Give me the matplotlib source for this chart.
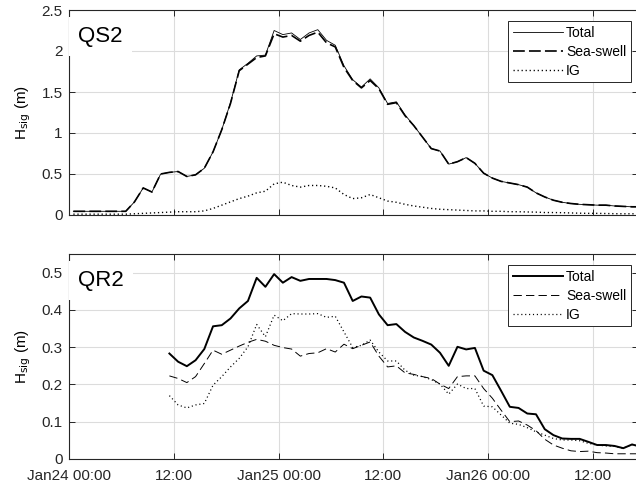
import numpy as np
import matplotlib
matplotlib.use("Agg")
import matplotlib.pyplot as plt
import matplotlib.dates as mdates
from matplotlib.ticker import FuncFormatter

# =========================
# Data: significant wave height (m), hourly, hours after Jan24 00:00
# =========================
t0 = np.datetime64("2018-01-24T00:00")

qs2_hours = np.arange(0.5, 66, 1.0)
qs2_total = [0.045, 0.045, 0.045, 0.045, 0.045, 0.045, 0.045,
             0.16, 0.33, 0.28, 0.50, 0.52, 0.53, 0.47, 0.49, 0.57, 0.77,
             1.04, 1.37, 1.77, 1.85, 1.94, 1.95, 2.25, 2.20, 2.22, 2.14,
             2.22, 2.26, 2.13, 2.07, 1.82, 1.65, 1.56, 1.66, 1.55, 1.36,
             1.38, 1.22, 1.09, 0.95, 0.81, 0.78, 0.62, 0.65, 0.70, 0.63,
             0.51, 0.45, 0.41, 0.39, 0.37, 0.34, 0.27, 0.22, 0.18, 0.155,
             0.14, 0.13, 0.125, 0.12, 0.12, 0.11, 0.105, 0.10, 0.10]
qs2_seaswell = [0.045, 0.045, 0.045, 0.045, 0.045, 0.045, 0.045,
                0.16, 0.33, 0.28, 0.50, 0.52, 0.53, 0.47, 0.49, 0.57, 0.77,
                1.04, 1.36, 1.76, 1.84, 1.92, 1.94, 2.21, 2.17, 2.19, 2.12,
                2.19, 2.23, 2.10, 2.05, 1.80, 1.64, 1.55, 1.64, 1.54, 1.35,
                1.37, 1.21, 1.09, 0.95, 0.81, 0.78, 0.62, 0.65, 0.70, 0.63,
                0.51, 0.45, 0.41, 0.39, 0.37, 0.34, 0.27, 0.22, 0.18, 0.155,
                0.14, 0.13, 0.125, 0.12, 0.12, 0.11, 0.105, 0.10, 0.10]
qs2_ig = [0.01, 0.01, 0.01, 0.01, 0.01, 0.01, 0.01,
          0.015, 0.02, 0.025, 0.03, 0.035, 0.04, 0.04, 0.04, 0.05, 0.08,
          0.12, 0.16, 0.20, 0.23, 0.27, 0.29, 0.38, 0.40, 0.36, 0.34,
          0.36, 0.36, 0.35, 0.33, 0.25, 0.20, 0.21, 0.25, 0.21, 0.17,
          0.155, 0.13, 0.11, 0.095, 0.08, 0.07, 0.065, 0.06, 0.055, 0.05,
          0.05, 0.045, 0.045, 0.04, 0.04, 0.037, 0.035, 0.03, 0.03, 0.028,
          0.025, 0.022, 0.02, 0.02, 0.018, 0.016, 0.015, 0.015, 0.015]

qr2_hours = np.arange(11.5, 66, 1.0)
qr2_total = [0.283, 0.261, 0.249, 0.265, 0.295, 0.356, 0.359, 0.377, 0.404,
             0.424, 0.486, 0.462, 0.496, 0.473, 0.488, 0.478, 0.483, 0.483,
             0.483, 0.480, 0.473, 0.424, 0.436, 0.433, 0.388, 0.359, 0.362,
             0.341, 0.326, 0.317, 0.307, 0.285, 0.250, 0.301, 0.294, 0.298,
             0.237, 0.225, 0.183, 0.140, 0.137, 0.122, 0.120, 0.080, 0.064,
             0.055, 0.054, 0.054, 0.046, 0.0375, 0.0375, 0.035, 0.029, 0.039,
             0.033]
qr2_seaswell = [0.223, 0.216, 0.205, 0.221, 0.256, 0.292, 0.281, 0.292, 0.303,
                0.313, 0.321, 0.316, 0.305, 0.299, 0.295, 0.276, 0.283, 0.285,
                0.296, 0.287, 0.308, 0.296, 0.305, 0.314, 0.276, 0.247, 0.250,
                0.231, 0.227, 0.221, 0.216, 0.201, 0.189, 0.221, 0.223, 0.223,
                0.189, 0.163, 0.131, 0.100, 0.102, 0.091, 0.076, 0.053, 0.0375,
                0.029, 0.022, 0.020, 0.021, 0.017, 0.016, 0.014, 0.014, 0.014,
                0.014]
qr2_ig = [0.170, 0.145, 0.137, 0.145, 0.149, 0.198, 0.221, 0.247, 0.270,
          0.301, 0.361, 0.328, 0.386, 0.371, 0.390, 0.389, 0.389, 0.390,
          0.380, 0.383, 0.341, 0.299, 0.305, 0.319, 0.287, 0.263, 0.263,
          0.238, 0.225, 0.221, 0.213, 0.201, 0.174, 0.201, 0.189, 0.189,
          0.142, 0.140, 0.118, 0.096, 0.093, 0.084, 0.073, 0.064, 0.055,
          0.051, 0.051, 0.049, 0.042, 0.0375, 0.035, 0.034, 0.029, 0.039,
          0.033]


def to_time(hours):
    return t0 + (np.asarray(hours) * 60).astype("timedelta64[m]")


# =========================
# Style
# =========================
plt.rcParams.update({
    "font.family": ["Liberation Sans", "DejaVu Sans"],
    "font.size": 11,
    "lines.scale_dashes": False,
    "axes.edgecolor": "#262626",
    "axes.linewidth": 0.8,
    "xtick.direction": "in",
    "ytick.direction": "in",
    "xtick.major.size": 4,
    "ytick.major.size": 4,
    "xtick.major.width": 0.7,
    "ytick.major.width": 0.7,
    "xtick.color": "#262626",
    "ytick.color": "#262626",
})

W, H = 636, 487
fig = plt.figure(figsize=(W / 100, H / 100), dpi=100)

ax_left, ax_width, ax_height = 69, 569, 205
ax1 = fig.add_axes([ax_left / W, 1 - 215 / H, ax_width / W, ax_height / H])
ax2 = fig.add_axes([ax_left / W, 1 - 459 / H, ax_width / W, ax_height / H])

px_per_hour = 523.7 / 60
xmax_hours = ax_width / px_per_hour


def tick_label(x, pos):
    d = mdates.num2date(x)
    if d.hour == 0:
        return d.strftime("%b%d %H:%M")
    return d.strftime("%H:%M")


xticks = to_time([0, 12, 24, 36, 48, 60])

# top panel: QS2
ax1.plot(to_time(qs2_hours), qs2_total, color="k", lw=0.6, label="Total")
ax1.plot(to_time(qs2_hours), qs2_seaswell, color="k", lw=1.2,
         dashes=(8.5, 3.0), label="Sea-swell")
ax1.plot(to_time(qs2_hours), qs2_ig, color="k", lw=1.0,
         dashes=(0.9, 2.0), label="IG")
ax1.set_ylim(0, 2.5)
ax1.set_yticks([0, 0.5, 1, 1.5, 2, 2.5])
ax1.set_yticklabels(["0", "0.5", "1", "1.5", "2", "2.5"])

# bottom panel: QR2
ax2.plot(to_time(qr2_hours), qr2_total, color="k", lw=1.4, label="Total")
ax2.plot(to_time(qr2_hours), qr2_seaswell, color="k", lw=0.7,
         dashes=(6.0, 3.0), label="Sea-swell")
ax2.plot(to_time(qr2_hours), qr2_ig, color="k", lw=0.9,
         dashes=(0.8, 2.0), label="IG")
ax2.set_ylim(0, 0.55)
ax2.set_yticks([0, 0.1, 0.2, 0.3, 0.4, 0.5])
ax2.set_yticklabels(["0", "0.1", "0.2", "0.3", "0.4", "0.5"])

for ax, name, legend_top in [(ax1, "QS2", 21), (ax2, "QR2", 265)]:
    ax.set_xlim(to_time([0])[0], to_time([xmax_hours])[0])
    ax.set_xticks(xticks)
    ax.xaxis.set_major_formatter(FuncFormatter(tick_label))
    ax.grid(True, color="#dcdcdc", lw=0.8)
    ax.set_axisbelow(True)
    ax.tick_params(axis="y", right=True, labelsize=11, pad=4.5)
    ax.tick_params(axis="x", top=True, labelsize=11, pad=7)
    ax.set_ylabel("H$_{\\mathrm{sig}}$ (m)", fontsize=11, labelpad=6)
    # panel name, boxed in white so the grid stops short of it
    ax.text(9 / ax_width, 1 - 32 / ax_height, name, transform=ax.transAxes,
            fontsize=16, ha="left", va="baseline", zorder=5,
            bbox=dict(facecolor="white", edgecolor="none", pad=6.5))
    leg = ax.legend(loc="upper right",
                    bbox_to_anchor=(631 / W, 1 - legend_top / H),
                    bbox_transform=fig.transFigure, borderaxespad=0,
                    fontsize=10, handlelength=3.6, handletextpad=0.25,
                    labelspacing=0.37, borderpad=0.33, fancybox=False,
                    framealpha=1, edgecolor="#262626")
    leg.get_frame().set_linewidth(0.7)

ax1.tick_params(labelbottom=False)

fig.savefig("out.png", dpi=100)
